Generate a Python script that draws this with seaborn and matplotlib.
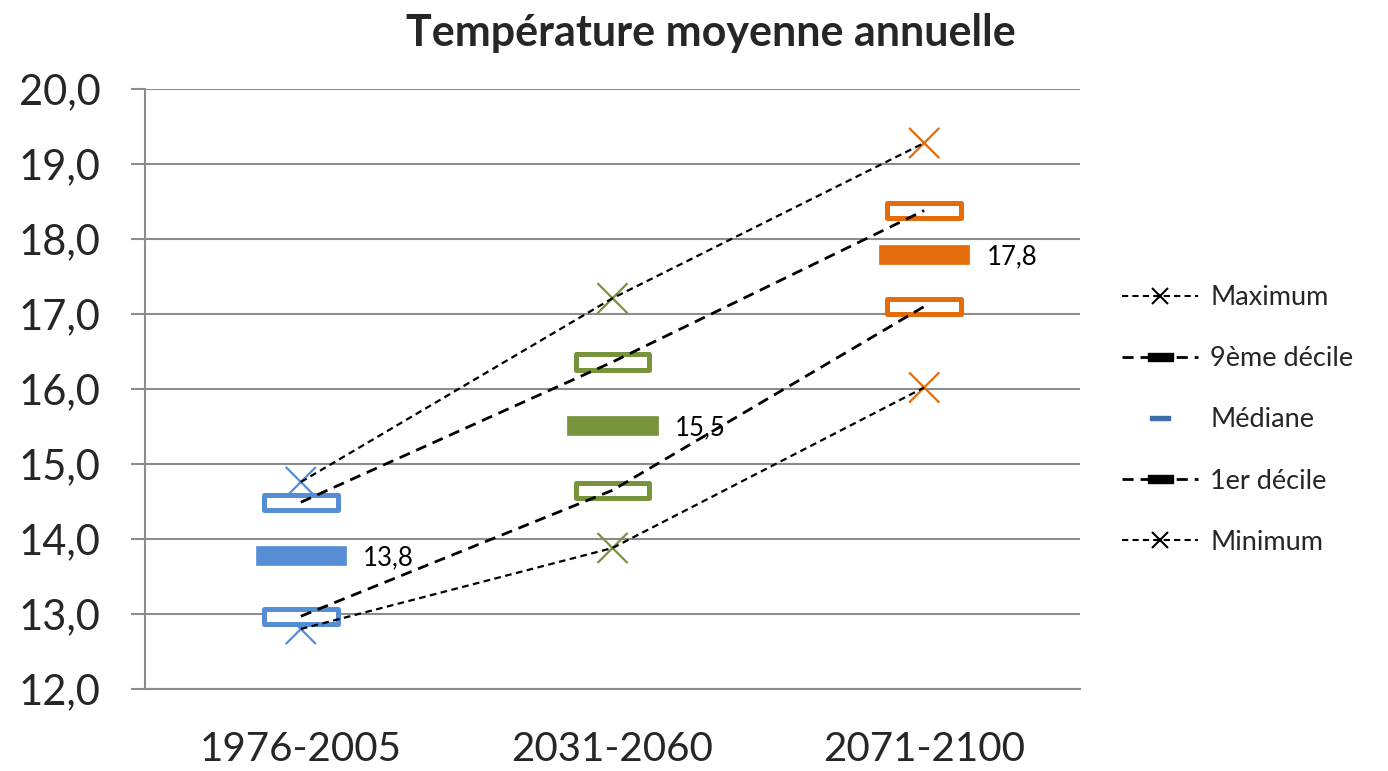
import numpy as np
import pandas as pd
import matplotlib
matplotlib.use("Agg")
import matplotlib.pyplot as plt
import seaborn as sns
from matplotlib.path import Path
from matplotlib.lines import Line2D
from matplotlib.ticker import MultipleLocator, FixedLocator

# ====================== données ===========================
periodes = ["1976-2005", "2031-2060", "2071-2100"]
maximum = [14.76, 17.21, 19.28]
decile_9 = [14.49, 16.36, 18.38]
mediane = [13.78, 15.51, 17.79]
decile_1 = [12.97, 14.65, 17.10]
minimum = [12.80, 13.88, 16.02]
couleurs = ["#558ED5", "#77933C", "#E46C0A"]

pos = np.arange(len(periodes))

sns.set_theme(style="white")
plt.rcParams["font.family"] = ["Lato", "DejaVu Sans"]

GRIS = "#8C8C8C"


def rect(h):
    # rectangle de largeur 2 et de hauteur 2*h (marqueur)
    return Path([(-1, -h), (1, -h), (1, h), (-1, h), (-1, -h)],
                [Path.MOVETO, Path.LINETO, Path.LINETO, Path.LINETO, Path.CLOSEPOLY])


boite = rect(0.205)
barre = rect(0.21)
pastille = rect(0.32)
trait = rect(0.25)

fig = plt.figure(figsize=(13.88, 7.71), dpi=100)
ax = fig.add_axes([145 / 1388, 1 - 689 / 771, 935 / 1388, 600 / 771])

# --- marqueurs
sns.scatterplot(x=pos, y=maximum, hue=periodes, palette=couleurs, marker="x",
                s=470, linewidth=1.6, legend=False, ax=ax, zorder=3)
sns.scatterplot(x=pos, y=minimum, hue=periodes, palette=couleurs, marker="x",
                s=470, linewidth=1.6, legend=False, ax=ax, zorder=3)
for serie in (decile_9, decile_1):
    sns.scatterplot(x=pos, y=serie, marker=boite, s=53 ** 2, facecolor="white",
                    edgecolor=couleurs, linewidth=3.6, legend=False, ax=ax, zorder=4)
sns.scatterplot(x=pos, y=mediane, marker=barre, s=65 ** 2, facecolor=couleurs,
                edgecolor=couleurs, linewidth=0.5, legend=False, ax=ax, zorder=4)

# --- lignes pointillées
for serie in (maximum, minimum):
    sns.lineplot(x=pos, y=serie, color="black", linewidth=1.6,
                 linestyle=(0, (3, 2)), ax=ax, zorder=5)
for serie in (decile_9, decile_1):
    sns.lineplot(x=pos, y=serie, color="black", linewidth=2.0,
                 linestyle=(0, (4, 2.5)), ax=ax, zorder=5)

# --- étiquettes de la médiane
for x, v in zip(pos, mediane):
    ax.annotate(f"{v:.1f}".replace(".", ","), (x, v), xytext=(45, 0),
                textcoords="offset points", ha="left", va="center_baseline",
                fontsize=18.5, color="black", zorder=6)

# --- axes
ax.set_xlim(-0.5, len(periodes) - 0.5)
ax.set_ylim(12, 20)
ax.yaxis.set_major_locator(MultipleLocator(1))
ax.set_yticklabels([f"{t:.1f}".replace(".", ",") for t in ax.get_yticks()])
ax.set_xticks(pos)
ax.set_xticklabels(periodes)
ax.xaxis.set_minor_locator(FixedLocator(np.arange(-0.5, len(periodes), 1.0)))
ax.tick_params(axis="x", which="major", length=0, pad=30, labelsize=29)
ax.tick_params(axis="x", which="minor", length=9.5, width=1.5, color=GRIS, direction="out")
ax.tick_params(axis="y", which="major", length=10, width=1.5, color=GRIS,
               direction="out", pad=22, labelsize=30, left=True)
ax.grid(axis="y", color=GRIS, linewidth=1.5)
ax.grid(axis="x", visible=False)
ax.set_axisbelow(True)
for side in ("top", "right"):
    ax.spines[side].set_visible(False)
for side in ("left", "bottom"):
    ax.spines[side].set_color(GRIS)
    ax.spines[side].set_linewidth(1.5)
ax.set_xlabel("")
ax.set_ylabel("")

fig.text(711 / 1388, 1 - 33 / 771, "Température moyenne annuelle",
         ha="center", va="center", fontsize=31, fontweight="bold")

# --- légende
poignees = [
    Line2D([0], [0], color="black", lw=1.5, linestyle=(0, (3, 2)),
           marker="x", ms=12, mew=1.5),
    Line2D([0], [0], color="black", lw=2.0, linestyle=(0, (4, 2.5)),
           marker=pastille, ms=18, mfc="black", mec="black"),
    Line2D([0], [0], linestyle="none", marker=trait, ms=14,
           mfc="#3F6FAA", mec="#3F6FAA"),
    Line2D([0], [0], color="black", lw=2.0, linestyle=(0, (4, 2.5)),
           marker=pastille, ms=18, mfc="black", mec="black"),
    Line2D([0], [0], color="black", lw=1.5, linestyle=(0, (3, 2)),
           marker="x", ms=12, mew=1.5),
]
etiquettes = ["Maximum", "9ème décile", "Médiane", "1er décile", "Minimum"]
fig.legend(poignees, etiquettes, loc="center left",
           bbox_to_anchor=(1122 / 1388, 1 - 420 / 771), frameon=False,
           fontsize=19.5, handlelength=2.8, handletextpad=0.45,
           labelspacing=1.33, borderpad=0, borderaxespad=0)

plt.savefig("out.png", dpi=100)
plt.close()
